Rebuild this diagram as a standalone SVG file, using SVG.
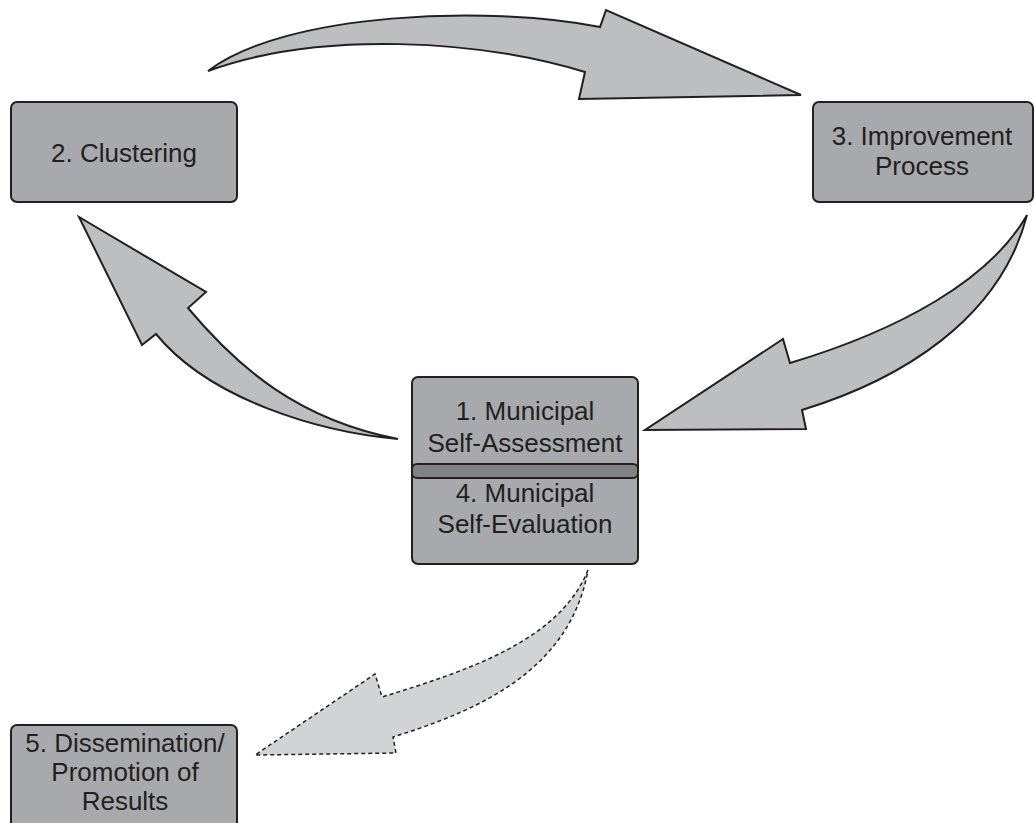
<svg xmlns="http://www.w3.org/2000/svg" width="1036" height="823" viewBox="0 0 1036 823">
<style>
.box{fill:#a7a9ac;stroke:#231f20;stroke-width:2}
.bar{fill:#808285;stroke:#231f20;stroke-width:2}
.t{font-family:"Liberation Sans","Arial",sans-serif;font-size:26px;fill:#231f20;text-anchor:middle}
.arr{fill:#bcbec0;stroke:#231f20;stroke-width:2;stroke-linejoin:miter}
.dash{fill:#d1d3d4;stroke:#231f20;stroke-width:1.5;stroke-dasharray:4 3}
</style>
<rect width="1036" height="823" fill="#ffffff"/>
<g id="connectors">
<path class="arr" d="M208,71 C285,12 490,5 600,27 L606,10 L801,95 L579,99 L585,72 C480,40 320,30 208,71 Z"/>
<path class="arr" d="M1027,215 C990,280 900,330 790,363 L783,339 L645,430 L806,429 L802,410 C900,380 1000,320 1027,215 Z"/>
<path class="arr" d="M398,439 C320,432 210,400 156,334 L142,345 L79,217 L206,292 L188,308 C240,370 300,420 398,439 Z"/>
<path class="dash" d="M588,570 C560,640 470,670 382,697 L375,674 L255,755 L396,753 L393,737 C480,710 570,670 588,570 Z"/>
</g>
<g id="node2">
<rect class="box" x="11" y="102" width="226" height="100" rx="6"/>
<text class="t" x="124" y="162">2. Clustering</text>
</g>
<g id="node3">
<rect class="box" x="813" y="102" width="220" height="100" rx="6"/>
<text class="t" x="922" y="145">3. Improvement</text>
<text class="t" x="922" y="175">Process</text>
</g>
<g id="node1">
<rect class="box" x="412" y="377" width="226" height="187" rx="6"/>
<rect class="bar" x="412" y="464" width="226" height="14" rx="5"/>
<text class="t" x="525" y="420">1. Municipal</text>
<text class="t" x="525" y="452">Self-Assessment</text>
<text class="t" x="525" y="502">4. Municipal</text>
<text class="t" x="525" y="533">Self-Evaluation</text>
</g>
<g id="node5">
<rect class="box" x="11" y="725" width="226" height="110" rx="6"/>
<text class="t" x="125" y="752">5. Dissemination/</text>
<text class="t" x="125" y="781">Promotion of</text>
<text class="t" x="125" y="810">Results</text>
</g>
</svg>
